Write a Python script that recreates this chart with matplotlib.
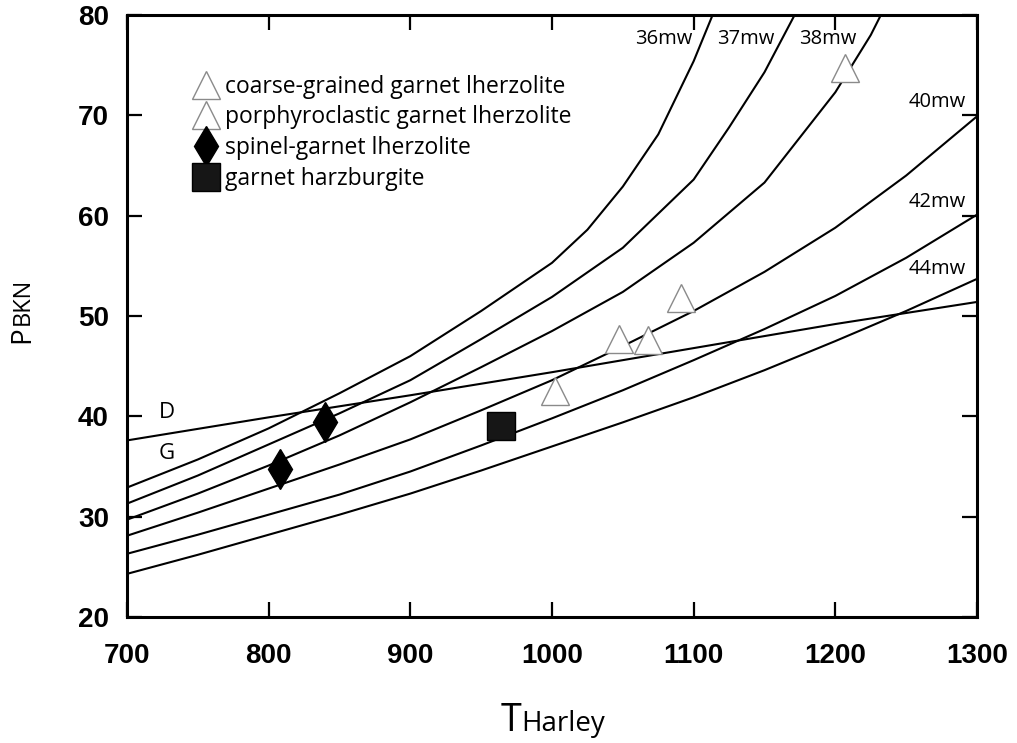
import matplotlib
matplotlib.use("Agg")
import matplotlib.pyplot as plt
from matplotlib.lines import Line2D

# ---- geotherms (surface heat flow in mW/m^2): temperature (C) vs pressure (kbar)
t_36 = [700, 750, 800, 850, 900, 950, 1000, 1025, 1050, 1075, 1100, 1125]
p_36 = [32.9, 35.7, 38.8, 42.3, 46.0, 50.5, 55.3, 58.6, 62.9, 68.1, 75.4, 84.0]

t_37 = [700, 750, 800, 850, 900, 950, 1000, 1050, 1100, 1125, 1150, 1175]
p_37 = [31.3, 34.1, 37.2, 40.3, 43.6, 47.7, 51.9, 56.8, 63.6, 68.8, 74.3, 81.0]

t_38 = [700, 750, 800, 850, 900, 950, 1000, 1050, 1100, 1150, 1200, 1225, 1250]
p_38 = [29.7, 32.3, 35.1, 38.1, 41.4, 44.9, 48.5, 52.4, 57.3, 63.3, 72.3, 78.0, 85.0]

t_full = [700, 750, 800, 850, 900, 950, 1000, 1050, 1100, 1150, 1200, 1250, 1300]
p_40 = [28.1, 30.4, 32.8, 35.2, 37.7, 40.6, 43.6, 47.0, 50.5, 54.4, 58.8, 64.0, 69.9]
p_42 = [26.3, 28.2, 30.2, 32.2, 34.5, 37.1, 39.8, 42.6, 45.6, 48.7, 52.0, 55.8, 60.1]
p_44 = [24.3, 26.2, 28.2, 30.2, 32.3, 34.6, 37.0, 39.4, 41.9, 44.6, 47.5, 50.5, 53.7]

geotherm_labels = ["36mw", "37mw", "38mw", "40mw", "42mw", "44mw"]

# graphite-diamond boundary
t_dg = [700, 800, 900, 1000, 1100, 1200, 1300]
p_dg = [37.6, 39.9, 42.1, 44.4, 46.8, 49.2, 51.4]

# ---- xenolith samples
coarse_t = [1002, 1047]
coarse_p = [42.5, 47.7]
porph_t = [1068, 1091, 1207]
porph_p = [47.6, 51.8, 74.7]
spinel_t = [808, 840]
spinel_p = [34.8, 39.4]
harz_t = [964]
harz_p = [39.0]

x_ticks = [700, 800, 900, 1000, 1100, 1200, 1300]
y_ticks = [20, 30, 40, 50, 60, 70, 80]

W, H = 1017, 743
fig = plt.figure(figsize=(W / 100, H / 100), dpi=100)
ax = fig.add_axes([127 / W, 1 - 617 / H, 850 / W, 602 / H])

LW = 1.5
ax.plot(t_36, p_36, color="black", lw=LW)
ax.plot(t_37, p_37, color="black", lw=LW)
ax.plot(t_38, p_38, color="black", lw=LW)
ax.plot(t_full, p_40, color="black", lw=LW)
ax.plot(t_full, p_42, color="black", lw=LW)
ax.plot(t_full, p_44, color="black", lw=LW)
ax.plot(t_dg, p_dg, color="black", lw=LW)

tri_kw = dict(marker="^", ms=20, mfc="white", mec="#8a8a8a", mew=1.0, ls="none")
dia_kw = dict(marker="d", ms=20, mfc="black", mec="black", ls="none")
sq_kw = dict(marker="s", ms=20, mfc="#161616", mec="black", mew=1, ls="none")
ax.plot(coarse_t, coarse_p, **tri_kw, zorder=3)
ax.plot(porph_t, porph_p, **tri_kw, zorder=3)
ax.plot(spinel_t, spinel_p, **dia_kw, zorder=4)
ax.plot(harz_t, harz_p, **sq_kw, zorder=4)

ax.set_xlim(700, 1300)
ax.set_ylim(20, 80)
ax.set_xticks(x_ticks)
ax.set_yticks(y_ticks)
tick_font = {"family": "Liberation Sans", "size": 20, "weight": "bold"}
ax.set_xticklabels([str(v) for v in x_ticks], fontdict=tick_font)
ax.set_yticklabels([str(v) for v in y_ticks], fontdict=tick_font)
ax.tick_params(direction="in", length=11, width=1.6, top=True, right=True)
ax.tick_params(axis="x", pad=19)
ax.tick_params(axis="y", pad=13)
for s in ax.spines.values():
    s.set_linewidth(2.2)

lab_font = "Open Sans"
# geotherm labels
label_pos = [(1079, 77.6), (1137, 77.6), (1195, 77.6), (1272, 71.3), (1272, 61.4), (1272, 54.7)]
for txt, (tx, ty) in zip(geotherm_labels, label_pos):
    ax.text(tx, ty, txt, family=lab_font, fontsize=14.5, ha="center", va="center")

ax.text(728, 40.4, "D", family=lab_font, fontsize=16, ha="center", va="center")
ax.text(728, 36.3, "G", family=lab_font, fontsize=16, ha="center", va="center")

handles = [Line2D([], [], **tri_kw), Line2D([], [], **tri_kw),
           Line2D([], [], **dia_kw), Line2D([], [], **sq_kw)]
names = ["coarse-grained garnet lherzolite", "porphyroclastic garnet lherzolite",
         "spinel-garnet lherzolite", "garnet harzburgite"]
ax.legend(handles, names, loc="upper left", bbox_to_anchor=(0.066, 0.92), frameon=False,
          prop={"family": lab_font, "size": 16.5}, handlelength=1.0, handletextpad=0.35,
          labelspacing=0.30, borderpad=0)

# axis titles with a large initial letter followed by smaller text on the same baseline
renderer = fig.canvas.get_renderer()
base_y = 1 - 731 / H
t1 = fig.text(501 / W, base_y, "T", family=lab_font, fontsize=27, ha="left", va="baseline")
x_after_t = t1.get_window_extent(renderer).x1 / W
fig.text(x_after_t - 1 / W, base_y, "Harley", family=lab_font, fontsize=20, ha="left", va="baseline")

base_x = 29 / W
p1 = fig.text(base_x, 1 - 343 / H, "P", family=lab_font, fontsize=20, rotation=90,
              ha="left", va="baseline", rotation_mode="anchor")
y_after_p = p1.get_window_extent(renderer).y1 / H
fig.text(base_x, y_after_p + 1 / H, "BKN", family=lab_font, fontsize=17, rotation=90,
         ha="left", va="baseline", rotation_mode="anchor")

fig.savefig("out.png", dpi=100)
